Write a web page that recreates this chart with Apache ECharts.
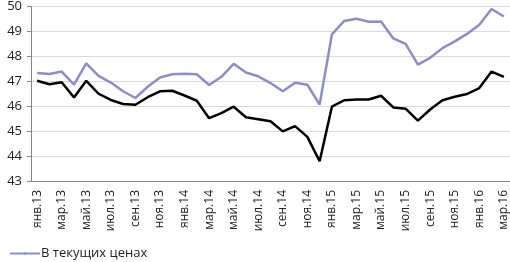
<!DOCTYPE html>
<html>
<head>
<meta charset="utf-8">
<script src="https://cdn.jsdelivr.net/npm/echarts@6/dist/echarts.min.js"></script>
<style>
  html, body { margin: 0; padding: 0; background: #fff; }
  #chart { width: 510px; height: 262px; }
</style>
</head>
<body>
<div id="chart"></div>
<script>
/** month labels, Jan 2013 .. Mar 2016 */
const months = [
  "янв.13", "фев.13", "мар.13", "апр.13", "май.13", "июн.13", "июл.13", "авг.13", "сен.13", "окт.13", "ноя.13", "дек.13",
  "янв.14", "фев.14", "мар.14", "апр.14", "май.14", "июн.14", "июл.14", "авг.14", "сен.14", "окт.14", "ноя.14", "дек.14",
  "янв.15", "фев.15", "мар.15", "апр.15", "май.15", "июн.15", "июл.15", "авг.15", "сен.15", "окт.15", "ноя.15", "дек.15",
  "янв.16", "фев.16", "мар.16",
];

/** current prices */
const currentPrices = [
  47.33, 47.29, 47.39, 46.87, 47.72, 47.22, 46.95, 46.6, 46.33, 46.78, 47.15, 47.28,
  47.3, 47.28, 46.85, 47.18, 47.7, 47.35, 47.2, 46.93, 46.6, 46.94, 46.86, 46.07,
  48.88, 49.42, 49.51, 49.39, 49.4, 48.72, 48.5, 47.67, 47.94, 48.33, 48.6, 48.9,
  49.27, 49.9, 49.6,
];

/** second series (legend entry cut off in the source) */
const comparablePrices = [
  47.02, 46.88, 46.96, 46.35, 47.02, 46.5, 46.25, 46.09, 46.06, 46.36, 46.6, 46.62,
  46.43, 46.22, 45.52, 45.72, 45.98, 45.56, 45.48, 45.4, 44.99, 45.2, 44.77, 43.79,
  45.98, 46.24, 46.27, 46.27, 46.42, 45.95, 45.9, 45.42, 45.87, 46.24, 46.38, 46.49,
  46.73, 47.39, 47.18,
];

const yMin = 43;
const yMax = 50;

const font = "'Open Sans', 'DejaVu Sans', sans-serif";
const purple = "#8d8ec6";

const chart = echarts.init(document.getElementById("chart"), null, { renderer: "canvas" });

chart.setOption({
  animation: false,
  grid: { left: 31, right: 0, top: 5, bottom: 81, containLabel: false },
  legend: {
    data: ["В текущих ценах"],
    left: 4,
    bottom: -3,
    itemWidth: 30,
    itemHeight: 3,
    itemGap: 4,
    textStyle: { fontFamily: font, fontSize: 13, color: "#222", padding: [0, 0, 0, -4] },
  },
  xAxis: {
    type: "category",
    data: months,
    boundaryGap: true,
    axisLine: { lineStyle: { color: "#868686", width: 1 } },
    axisTick: { interval: 1, length: 4, lineStyle: { color: "#868686" } },
    axisLabel: {
      interval: 1,
      rotate: 90,
      margin: 9,
      fontFamily: font,
      fontSize: 12,
      color: "#222",
    },
  },
  yAxis: {
    type: "value",
    min: yMin,
    max: yMax,
    interval: 1,
    axisLine: { show: true, lineStyle: { color: "#868686" } },
    axisTick: { show: true, length: 4, lineStyle: { color: "#868686" } },
    splitLine: { lineStyle: { color: "#d9d9d9" } },
    axisLabel: { fontFamily: font, fontSize: 13, color: "#222", margin: 9 },
  },
  series: [
    {
      name: "В текущих ценах",
      type: "line",
      data: currentPrices,
      symbol: "none",
      lineStyle: { color: purple, width: 2.5 },
      itemStyle: { color: purple },
    },
    {
      name: "В сопоставимых ценах",
      type: "line",
      data: comparablePrices,
      symbol: "none",
      lineStyle: { color: "#000", width: 2.5 },
      itemStyle: { color: "#000" },
    },
  ],
});
</script>
</body>
</html>
